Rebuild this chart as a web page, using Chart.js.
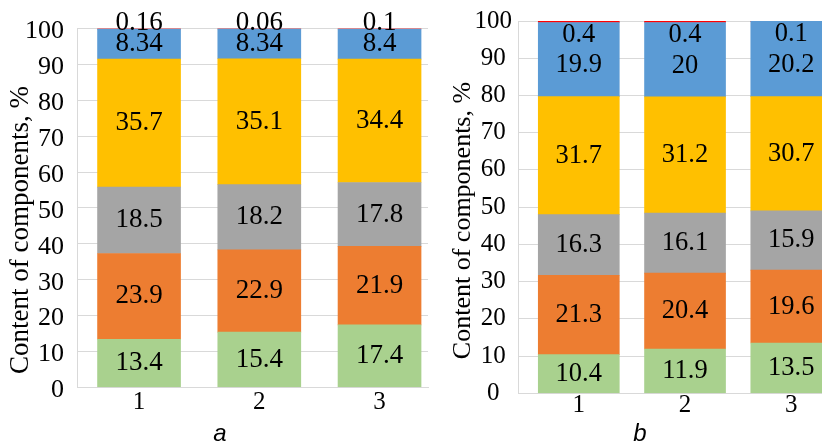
<!DOCTYPE html>
<html><head><meta charset="utf-8">
<script src="https://cdn.jsdelivr.net/npm/chart.js@4"></script>
<style>
html,body{margin:0;padding:0;background:#fff;overflow:hidden;width:822px;height:442px;}
#wa{position:absolute;left:0;top:0;width:430px;height:442px;}
#wb{position:absolute;left:430px;top:0;width:392px;height:442px;}
canvas{display:block;}
</style></head><body>
<div id="wa"><canvas id="ca" width="430" height="442"></canvas></div>
<div id="wb"><canvas id="cb" width="392" height="442"></canvas></div>
<script>
// ---- data ----
const categories = ['1', '2', '3'];
const seriesNames = ['Component 1', 'Component 2', 'Component 3', 'Component 4', 'Component 5', 'Component 6'];

const a_green  = [13.4, 15.4, 17.4];
const a_orange = [23.9, 22.9, 21.9];
const a_gray   = [18.5, 18.2, 17.8];
const a_yellow = [35.7, 35.1, 34.4];
const a_blue   = [8.34, 8.34, 8.4];
const a_red    = [0.16, 0.06, 0.1];

const b_green  = [10.4, 11.9, 13.5];
const b_orange = [21.3, 20.4, 19.6];
const b_gray   = [16.3, 16.1, 15.9];
const b_yellow = [31.7, 31.2, 30.7];
const b_blue   = [19.9, 20, 20.2];
const b_red    = [0.4, 0.4, 0.1];

const yTitle = 'Content of components, %';
const panelA = 'a';
const panelB = 'b';

// ---- style ----
const segColors = ['#A9D18E', '#ED7D31', '#A5A5A5', '#FFC000', '#5B9BD5', '#FF0000'];
const gridColor = '#D9D9D9';

function segPlugin(L) {
  return {
    id: 'seg' + L.id,
    afterDatasetsDraw(chart) {
      const ctx = chart.ctx;
      ctx.save();
      ctx.font = L.valFont;
      ctx.fillStyle = '#000';
      ctx.textAlign = 'center';
      ctx.textBaseline = 'middle';
      chart.data.datasets.forEach((ds, i) => {
        const meta = chart.getDatasetMeta(i);
        meta.data.forEach((el, j) => {
          const cy = (el.y + el.base) / 2 + L.shifts[i];
          ctx.fillText(String(ds.data[j]), el.x, cy);
        });
      });
      ctx.restore();
    },
    afterDraw(chart) {
      const ctx = chart.ctx;
      ctx.save();
      ctx.fillStyle = '#000';
      ctx.font = L.titleFont;
      ctx.translate(L.titleX, L.titleY);
      ctx.rotate(-Math.PI / 2);
      ctx.textAlign = 'center';
      ctx.textBaseline = 'alphabetic';
      ctx.fillText(yTitle, 0, 0);
      ctx.restore();
      ctx.save();
      ctx.fillStyle = '#000';
      ctx.font = L.subFont;
      ctx.textAlign = 'center';
      ctx.textBaseline = 'alphabetic';
      ctx.fillText(L.sub, L.subX, L.subY);
      ctx.restore();
    }
  };
}

function build(id, series, L) {
  const datasets = series.map((s, i) => ({
    label: seriesNames[i], data: s, backgroundColor: segColors[i],
    borderWidth: 0, barThickness: L.bar
  }));
  return new Chart(document.getElementById(id), {
    type: 'bar',
    data: { labels: categories, datasets },
    options: {
      responsive: false, animation: false, devicePixelRatio: 1,
      layout: { padding: { left: 0, top: L.top, right: L.right, bottom: 0 } },
      plugins: { legend: { display: false }, tooltip: { enabled: false } },
      scales: {
        x: {
          type: 'linear', stacked: true, min: L.xmin, max: L.xmax, bounds: 'data', offset: false,
          grid: { display: false, drawTicks: false },
          border: { display: true, color: gridColor },
          afterBuildTicks: ax => { ax.ticks = categories.map(c => ({ value: Number(c) })); },
          ticks: { font: { family: 'Liberation Serif', size: L.xFont, lineHeight: 1 }, color: '#000',
                   padding: L.xPad, maxRotation: 0, autoSkip: false, callback: v => String(v) },
          afterFit: ax => { ax.height = L.xH; }
        },
        y: {
          stacked: true, min: 0, max: 100,
          ticks: { stepSize: 10, font: { family: 'Liberation Serif', size: L.yFont }, color: '#000',
                   padding: L.yPad, crossAlign: L.cross, labelOffset: L.yLabOff },
          grid: { color: gridColor, drawTicks: false },
          border: { display: true, color: gridColor },
          afterFit: ax => { ax.width = L.yW; }
        }
      }
    },
    plugins: [segPlugin(L)]
  });
}

build('ca', [a_green, a_orange, a_gray, a_yellow, a_blue, a_red], {
  id: 'A', bar: 83, top: 26.7, right: 2, xmin: 0.484, xmax: 3.403,
  xFont: 25, xPad: 2.7, xH: 54.7, yFont: 26, yPad: 13, cross: 'near', yLabOff: 3, yW: 77,
  valFont: '27px "Liberation Serif"', shifts: [0, 0, 0, 0, 0, -6],
  titleFont: '27px "Liberation Serif"', titleX: 28.3, titleY: 230,
  subFont: 'italic 24px "Liberation Sans"', sub: panelA, subX: 220, subY: 441
});

build('cb', [b_green, b_orange, b_gray, b_yellow, b_blue, b_red], {
  id: 'B', bar: 81, top: 15.7, right: 0, xmin: 0.428, xmax: 3.289,
  xFont: 25, xPad: 0, xH: 48.7, yFont: 25, yPad: 6, cross: 'center', yLabOff: 0, yW: 88,
  valFont: '26.5px "Liberation Serif"', shifts: [0, 0, 0, 0, 6, 13],
  titleFont: '26px "Liberation Serif"', titleX: 40, titleY: 220.5,
  subFont: 'italic 24px "Liberation Sans"', sub: panelB, subX: 210, subY: 441
});
</script>
</body></html>
